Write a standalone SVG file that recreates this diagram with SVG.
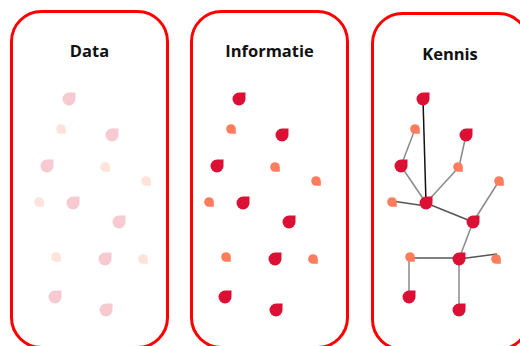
<svg xmlns="http://www.w3.org/2000/svg" xmlns:xlink="http://www.w3.org/1999/xlink" width="520" height="346" viewBox="0 0 520 346">
<style>
.panel{fill:#fff;stroke:#ff0000;stroke-width:3}
.title{font-family:"Open Sans","Noto Sans",sans-serif;font-weight:700;font-size:16.5px;fill:#111;text-anchor:middle}
.big{fill:#dc1034}
.small{fill:#ff7d5c}
.faint{opacity:0.22}
.edge{stroke:#8a8a8a;stroke-width:1.5;fill:none}
.edge.dark{stroke:#555}
.edge.black{stroke:#111}
</style>
<defs>
<path id="dl" d="M0,-6.5H6.5V0A6.5,6.5 0 1 1 0,-6.5Z"/>
<path id="ds" d="M0,-4.8H4.8V0A4.8,4.8 0 1 1 0,-4.8Z" transform="rotate(90)"/>
</defs>
<rect width="520" height="346" fill="#fff"/>

<g id="panel-data">
<rect class="panel" x="11.5" y="11.5" width="156" height="336" rx="30"/>
<text class="title" x="89.5" y="57">Data</text>
<g class="faint">
<use href="#dl" class="big" x="69" y="99"/>
<use href="#ds" class="small" x="61" y="129"/>
<use href="#dl" class="big" x="112" y="135"/>
<use href="#dl" class="big" x="47" y="166"/>
<use href="#ds" class="small" x="105" y="167"/>
<use href="#ds" class="small" x="146" y="181"/>
<use href="#ds" class="small" x="39" y="202"/>
<use href="#dl" class="big" x="73" y="203"/>
<use href="#dl" class="big" x="119" y="222"/>
<use href="#ds" class="small" x="56" y="257"/>
<use href="#dl" class="big" x="105" y="259"/>
<use href="#ds" class="small" x="143" y="259"/>
<use href="#dl" class="big" x="55" y="297"/>
<use href="#dl" class="big" x="106" y="310"/>
</g>
</g>

<g id="panel-informatie">
<rect class="panel" x="191.5" y="11.5" width="156" height="336" rx="30"/>
<text class="title" x="269.5" y="57">Informatie</text>
<use href="#dl" class="big" x="239" y="99"/>
<use href="#ds" class="small" x="231" y="129"/>
<use href="#dl" class="big" x="282" y="135"/>
<use href="#dl" class="big" x="217" y="166"/>
<use href="#ds" class="small" x="275" y="167"/>
<use href="#ds" class="small" x="316" y="181"/>
<use href="#ds" class="small" x="209" y="202"/>
<use href="#dl" class="big" x="243" y="203"/>
<use href="#dl" class="big" x="289" y="222"/>
<use href="#ds" class="small" x="226" y="257"/>
<use href="#dl" class="big" x="275" y="259"/>
<use href="#ds" class="small" x="313" y="259"/>
<use href="#dl" class="big" x="225" y="297"/>
<use href="#dl" class="big" x="276" y="310"/>
</g>

<g id="panel-kennis">
<rect class="panel" x="372.5" y="13.5" width="156" height="336" rx="30"/>
<text class="title" x="450" y="60">Kennis</text>
</g>

<g id="connectors">
<line class="edge black" x1="423" y1="99" x2="426" y2="203"/>
<line class="edge" x1="415" y1="129" x2="401" y2="166"/>
<line class="edge" x1="401" y1="166" x2="426" y2="203"/>
<line class="edge" x1="466" y1="135" x2="459" y2="167"/>
<line class="edge" x1="459" y1="167" x2="426" y2="203"/>
<line class="edge dark" x1="392" y1="201" x2="426" y2="206"/>
<line class="edge dark" x1="426" y1="203" x2="473" y2="222"/>
<line class="edge" x1="499" y1="181" x2="473" y2="222"/>
<line class="edge" x1="473" y1="222" x2="459" y2="259"/>
<line class="edge dark" x1="410" y1="258" x2="459" y2="258"/>
<line class="edge dark" x1="459" y1="259" x2="497" y2="254"/>
<line class="edge" x1="409" y1="257" x2="409" y2="297"/>
<line class="edge" x1="459" y1="259" x2="459" y2="310"/>
</g>

<g id="k1"><use href="#dl" class="big" x="423" y="99"/></g>
<g id="k2"><use href="#ds" class="small" x="415" y="129"/></g>
<g id="k3"><use href="#dl" class="big" x="466" y="135"/></g>
<g id="k4"><use href="#dl" class="big" x="401" y="166"/></g>
<g id="k5"><use href="#ds" class="small" x="458" y="167"/></g>
<g id="k6"><use href="#ds" class="small" x="499" y="181"/></g>
<g id="k7"><use href="#ds" class="small" x="392" y="202"/></g>
<g id="k8"><use href="#dl" class="big" x="426" y="203"/></g>
<g id="k9"><use href="#dl" class="big" x="473" y="222"/></g>
<g id="k10"><use href="#ds" class="small" x="410" y="257"/></g>
<g id="k11"><use href="#dl" class="big" x="459" y="259"/></g>
<g id="k12"><use href="#ds" class="small" x="496" y="259"/></g>
<g id="k13"><use href="#dl" class="big" x="409" y="297"/></g>
<g id="k14"><use href="#dl" class="big" x="459" y="310"/></g>
</svg>
